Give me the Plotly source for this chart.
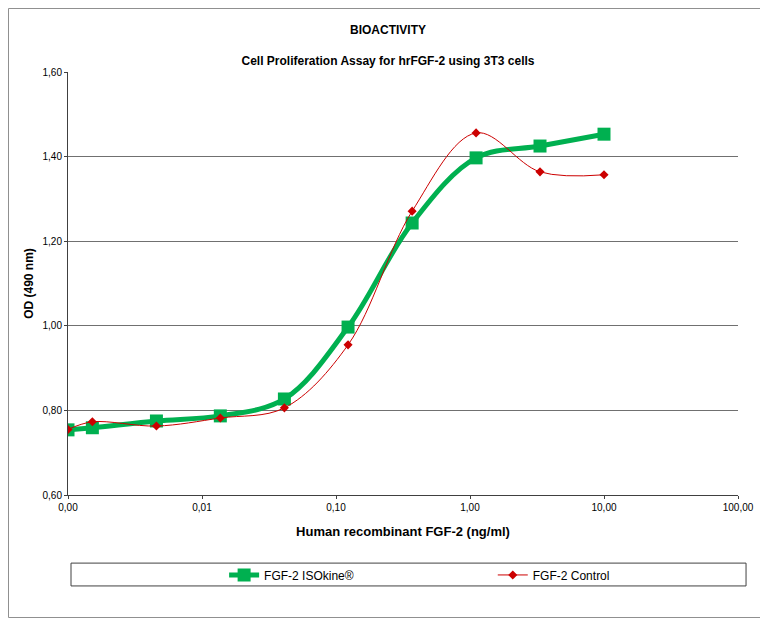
import plotly.graph_objects as go

# concentrations (ng/ml)
conc = [0.001, 0.00152, 0.00457, 0.0137, 0.0412, 0.123, 0.370, 1.11, 3.33, 10.0]
od_isokine = [0.754, 0.759, 0.775, 0.787, 0.827, 0.997, 1.243, 1.397, 1.425, 1.453]
od_control = [0.755, 0.773, 0.763, 0.782, 0.806, 0.955, 1.271, 1.456, 1.364, 1.357]

x_ticks = [0.001, 0.01, 0.1, 1, 10, 100]
y_ticks = [0.6, 0.8, 1.0, 1.2, 1.4, 1.6]

font = "Liberation Sans, Arial, sans-serif"

fig = go.Figure()
fig.add_trace(go.Scatter(
    x=conc, y=od_isokine, name="FGF-2 ISOkine®",
    mode="lines+markers",
    line=dict(color="#00B050", width=5, shape="spline", smoothing=1),
    marker=dict(symbol="square", size=13, color="#00B050"),
    legend="legend",
))
fig.add_trace(go.Scatter(
    x=conc, y=od_control, name="FGF-2 Control",
    mode="lines+markers",
    line=dict(color="#CC0000", width=1, shape="spline", smoothing=1),
    marker=dict(symbol="diamond", size=7, color="#CC0000"),
    legend="legend2",
))

fig.update_xaxes(
    type="log", range=[-3, 2],
    tickvals=x_ticks, tickformat=".2f",
    showgrid=False, showline=True, linecolor="#404040", linewidth=1,
    ticks="outside", ticklen=3, tickcolor="#404040",
    tickfont=dict(size=10, color="#000000"),
    title=dict(text="<b>Human recombinant FGF-2 (ng/ml)</b>", font=dict(size=13), standoff=14),
    zeroline=False,
)
fig.update_yaxes(
    range=[0.6, 1.6], tickvals=y_ticks, tickformat=".2f",
    showgrid=True, gridcolor="#707070", gridwidth=1,
    showline=True, linecolor="#404040", linewidth=1,
    ticks="outside", ticklen=3, tickcolor="#404040",
    tickfont=dict(size=10, color="#000000"),
    title=dict(text="<b>OD (490 nm)</b>", font=dict(size=12), standoff=6),
    zeroline=False,
)

legend_style = dict(
    orientation="h", xanchor="left", y=-0.189, yanchor="middle",
    itemwidth=30, font=dict(size=12), bgcolor="rgba(0,0,0,0)",
)

# page body adds 8px around the figure, so the figure is 760x610
fig.update_layout(
    width=760, height=610,
    margin=dict(l=60, r=30, t=64, b=123),
    paper_bgcolor="white", plot_bgcolor="white",
    separators=", ",
    font=dict(family=font, color="#000000"),
    title=dict(
        text="<b>BIOACTIVITY</b><br><br><b>Cell Proliferation Assay for hrFGF-2 using 3T3 cells</b>",
        x=0.5, xanchor="center", y=0.957, yanchor="top",
        font=dict(size=12),
    ),
    showlegend=True,
    legend=dict(x=0.233, **legend_style),
    legend2=dict(x=0.634, **legend_style),
    shapes=[
        # legend frame
        dict(type="rect", xref="paper", yref="paper",
             x0=0.0045, x1=1.012, y0=-0.215, y1=-0.161,
             line=dict(color="#404040", width=1)),
        # outer chart frame
        dict(type="rect", xref="paper", yref="paper",
             x0=-0.0888, x1=1.044, y0=-0.2896, y1=1.1501,
             line=dict(color="#909090", width=1)),
    ],
)

fig.write_html("out.html")
